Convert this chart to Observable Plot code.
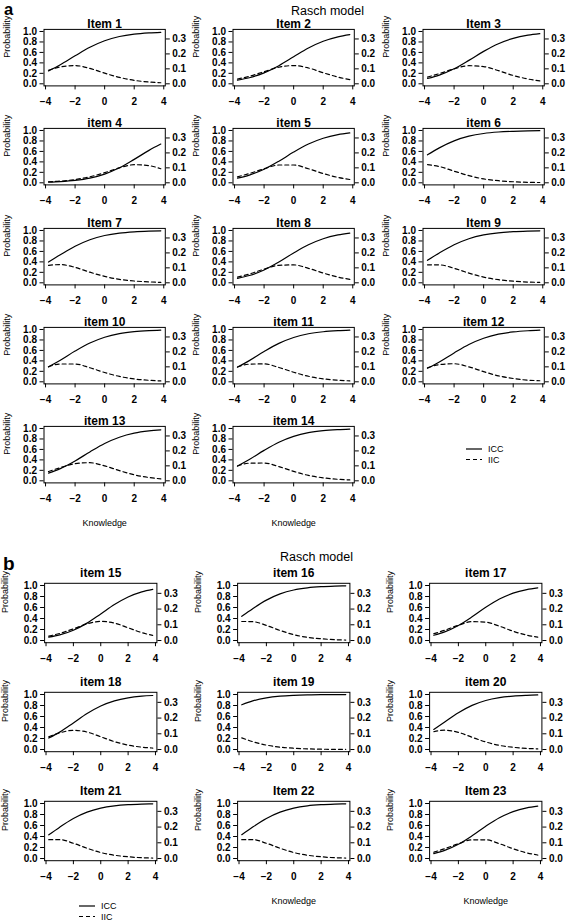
<!DOCTYPE html>
<html><head><meta charset="utf-8">
<script src="https://cdn.jsdelivr.net/npm/d3@7"></script>
<script src="https://cdn.jsdelivr.net/npm/@observablehq/plot@0.6"></script>
<style>
body{margin:0;background:#fff;}
#fig{position:relative;width:567px;height:921px;overflow:hidden;background:#fff;font-family:"Liberation Sans",Arial,Helvetica,sans-serif;color:#000;}
#fig svg{position:absolute;}
</style></head><body><div id="fig"></div>
<script>
// ability grid (Knowledge)
const theta = [-3.8, -3, -2, -1, 0, 1, 2, 3, 3.8];
const xTicks = [-4, -2, 0, 2, 4];
const probTicks = [0, 0.2, 0.4, 0.6, 0.8, 1];
const infoTicks = [0, 0.1, 0.2, 0.3];
const infoMax = 0.35;

const titlesA = ["Item 1","Item 2","Item 3","item 4","item 5","item 6","Item 7","Item 8","Item 9","item 10","item 11","item 12","item 13","item 14"];
const titlesB = ["item 15","item 16","item 17","item 18","item 19","item 20","Item 21","Item 22","Item 23"];

// ICC (probability) and IIC (information)
const icc01 = [0.246,0.364,0.535,0.698,0.823,0.904,0.950,0.974,0.985];
const iic01 = [0.091,0.113,0.122,0.103,0.071,0.043,0.023,0.012,0.007];
const icc02 = [0.070,0.116,0.209,0.347,0.517,0.684,0.813,0.898,0.939];
const iic02 = [0.032,0.050,0.081,0.111,0.122,0.106,0.074,0.045,0.028];
const icc03 = [0.102,0.167,0.287,0.448,0.620,0.767,0.869,0.930,0.959];
const iic03 = [0.045,0.068,0.100,0.121,0.115,0.088,0.056,0.032,0.019];
const icc04 = [0.014,0.024,0.047,0.090,0.167,0.287,0.448,0.620,0.741];
const iic04 = [0.007,0.011,0.022,0.040,0.068,0.100,0.121,0.115,0.094];
const icc05 = [0.090,0.148,0.259,0.413,0.587,0.741,0.852,0.921,0.953];
const iic05 = [0.040,0.062,0.094,0.119,0.119,0.094,0.062,0.036,0.022];
const icc06 = [0.535,0.668,0.802,0.891,0.943,0.971,0.985,0.993,0.996];
const iic06 = [0.122,0.109,0.078,0.048,0.026,0.014,0.007,0.003,0.002];
const icc07 = [0.397,0.535,0.698,0.823,0.904,0.950,0.974,0.987,0.993];
const iic07 = [0.117,0.122,0.103,0.071,0.043,0.023,0.012,0.006,0.003];
const icc08 = [0.085,0.139,0.246,0.397,0.570,0.727,0.843,0.915,0.950];
const iic08 = [0.038,0.059,0.091,0.117,0.120,0.097,0.065,0.038,0.023];
const icc09 = [0.430,0.570,0.727,0.843,0.915,0.956,0.978,0.989,0.994];
const iic09 = [0.120,0.120,0.097,0.065,0.038,0.021,0.011,0.005,0.003];
const icc10 = [0.287,0.413,0.587,0.741,0.852,0.921,0.959,0.979,0.988];
const iic10 = [0.100,0.119,0.119,0.094,0.062,0.036,0.019,0.010,0.006];
const icc11 = [0.280,0.405,0.578,0.734,0.847,0.918,0.957,0.978,0.988];
const iic11 = [0.099,0.118,0.120,0.096,0.064,0.037,0.020,0.011,0.006];
const icc12 = [0.259,0.380,0.552,0.713,0.833,0.910,0.953,0.976,0.986];
const iic12 = [0.094,0.115,0.121,0.100,0.068,0.040,0.022,0.011,0.007];
const icc13 = [0.148,0.233,0.380,0.552,0.713,0.833,0.910,0.953,0.973];
const iic13 = [0.062,0.088,0.115,0.121,0.100,0.068,0.040,0.022,0.013];
const icc14 = [0.282,0.408,0.582,0.738,0.850,0.920,0.958,0.978,0.988];
const iic14 = [0.099,0.118,0.119,0.095,0.063,0.036,0.020,0.010,0.006];
const icc15 = [0.061,0.102,0.187,0.316,0.483,0.653,0.791,0.884,0.930];
const iic15 = [0.028,0.045,0.074,0.106,0.122,0.111,0.081,0.050,0.032];
const icc16 = [0.439,0.578,0.734,0.847,0.918,0.957,0.978,0.989,0.994];
const iic16 = [0.121,0.120,0.096,0.064,0.037,0.020,0.011,0.005,0.003];
const icc17 = [0.096,0.157,0.273,0.430,0.603,0.754,0.861,0.925,0.956];
const iic17 = [0.043,0.065,0.097,0.120,0.117,0.091,0.059,0.034,0.021];
const icc18 = [0.209,0.316,0.483,0.653,0.791,0.884,0.939,0.969,0.982];
const iic18 = [0.081,0.106,0.122,0.111,0.081,0.050,0.028,0.015,0.009];
const icc19 = [0.813,0.884,0.939,0.969,0.984,0.992,0.996,0.998,0.999];
const iic19 = [0.074,0.050,0.028,0.015,0.008,0.004,0.002,0.001,0.001];
const icc20 = [0.364,0.500,0.668,0.802,0.891,0.943,0.971,0.985,0.992];
const iic20 = [0.113,0.123,0.109,0.078,0.048,0.026,0.014,0.007,0.004];
const icc21 = [0.430,0.570,0.727,0.843,0.915,0.956,0.978,0.989,0.994];
const iic21 = [0.120,0.120,0.097,0.065,0.038,0.021,0.011,0.005,0.003];
const icc22 = [0.432,0.572,0.728,0.844,0.916,0.957,0.978,0.989,0.994];
const iic22 = [0.120,0.120,0.097,0.065,0.038,0.021,0.011,0.005,0.003];
const icc23 = [0.090,0.148,0.259,0.413,0.587,0.741,0.852,0.921,0.953];
const iic23 = [0.040,0.062,0.094,0.119,0.119,0.094,0.062,0.036,0.022];

const iccA = [icc01,icc02,icc03,icc04,icc05,icc06,icc07,icc08,icc09,icc10,icc11,icc12,icc13,icc14];
const iicA = [iic01,iic02,iic03,iic04,iic05,iic06,iic07,iic08,iic09,iic10,iic11,iic12,iic13,iic14];
const iccB = [icc15,icc16,icc17,icc18,icc19,icc20,icc21,icc22,icc23];
const iicB = [iic15,iic16,iic17,iic18,iic19,iic20,iic21,iic22,iic23];

const FONT = '"Liberation Sans", Arial, Helvetica, sans-serif';
const fig = document.getElementById("fig");
const fmtX = d => d < 0 ? "\u2212" + (-d) : String(d);

function panel(o) {
  const rows = theta.map((t, i) => ({theta: t, icc: o.icc[i], iic: o.iic[i]}));
  const axisText = {fontSize: 10, fontWeight: "bold"};
  const marks = [
    Plot.line(rows, {x: "theta", y: "icc", curve: "monotone-x", stroke: "#000", strokeWidth: 1.2}),
    Plot.line(rows, {x: "theta", y: d => d.iic / infoMax, curve: "monotone-x", stroke: "#000", strokeWidth: 1.2, strokeDasharray: "4,3"}),
    Plot.frame({stroke: "#000", strokeWidth: 1}),
    Plot.axisX({ticks: xTicks, tickSize: 4, tickPadding: 8, label: null, tickFormat: fmtX, ...axisText}),
    Plot.axisY({anchor: "left", ticks: probTicks, tickSize: 4, tickPadding: 3, label: null, tickFormat: d => d.toFixed(1), ...axisText}),
    Plot.axisY({anchor: "right", ticks: infoTicks.map(v => v / infoMax), tickSize: 4, tickPadding: 3, label: null, tickFormat: d => (d * infoMax).toFixed(1), ...axisText}),
    Plot.text([o.title], {text: d => d, frameAnchor: "top", lineAnchor: "bottom", dy: o.titleDy, fontSize: 12, fontWeight: "bold"}),
    Plot.text(["Probability"], {text: d => d, frameAnchor: "left", rotate: -90, dx: o.probDx, fontSize: 9})
  ];
  if (o.knowledge) marks.push(Plot.text(["Knowledge"], {text: d => d, frameAnchor: "bottom", lineAnchor: "middle", dy: 40, fontSize: 9}));
  const p = Plot.plot({
    width: o.w, height: o.h,
    marginLeft: o.mL, marginRight: o.mR, marginTop: o.mT, marginBottom: o.mB,
    style: {background: "none", overflow: "visible", fontFamily: FONT, color: "#000"},
    x: {domain: [-4.104, 4.104]},
    y: {domain: [-0.04, 1.04]},
    marks
  });
  p.style.left = o.left + "px";
  p.style.top = o.top + "px";
  fig.appendChild(p);
}

// panel a: 5 x 3 grid
titlesA.forEach((t, i) => {
  const r = Math.floor(i / 3), c = i % 3;
  panel({title: t, icc: iccA[i], iic: iicA[i], left: c * 189.3, top: r * 99.3, w: 189.3, h: 99.3,
    mL: 43.5, mR: 24.5, mT: 28.9, mB: 13.9, titleDy: -1.5, probDx: -36.5, knowledge: r === 4});
});
// panel b: 3 x 3 grid
titlesB.forEach((t, i) => {
  const r = Math.floor(i / 3), c = i % 3;
  panel({title: t, icc: iccB[i], iic: iicB[i], left: c * 192.5, top: 554 + r * 109, w: 192.5, h: 109,
    mL: 44.1, mR: 36.1, mT: 28.8, mB: 20.8, titleDy: -6, probDx: -39, knowledge: r === 2 && c > 0});
});

// overlay: panel letters, titles, legends
const NS = "http://www.w3.org/2000/svg";
const ov = document.createElementNS(NS, "svg");
ov.setAttribute("width", 567); ov.setAttribute("height", 921);
ov.style.left = "0px"; ov.style.top = "0px"; ov.style.fontFamily = FONT;
function txt(x, y, s, size, weight, anchor) {
  const e = document.createElementNS(NS, "text");
  e.setAttribute("x", x); e.setAttribute("y", y);
  e.setAttribute("font-size", size); e.setAttribute("font-weight", weight || "normal");
  e.setAttribute("text-anchor", anchor || "start"); e.setAttribute("fill", "#000");
  e.textContent = s; ov.appendChild(e);
}
function seg(x1, x2, y, dash) {
  const e = document.createElementNS(NS, "line");
  e.setAttribute("x1", x1); e.setAttribute("x2", x2); e.setAttribute("y1", y); e.setAttribute("y2", y);
  e.setAttribute("stroke", "#000"); e.setAttribute("stroke-width", 1.2);
  if (dash) e.setAttribute("stroke-dasharray", "4,3");
  ov.appendChild(e);
}
txt(4, 15.2, "a", 16.5, "bold");
txt(291, 14.5, "Rasch model", 12.5);
txt(3, 570, "b", 19, "bold");
txt(280, 561, "Rasch model", 12.5);
const legendNames = ["ICC", "IIC"];
[[466, 449], [79, 906]].forEach(([x, y]) => {
  legendNames.forEach((n, j) => {
    const yy = y + j * 10.5;
    seg(x, x + 16, yy, j === 1);
    txt(x + 22, yy + 3.2, n, 9);
  });
});
fig.insertBefore(ov, fig.firstChild);
</script></body></html>
